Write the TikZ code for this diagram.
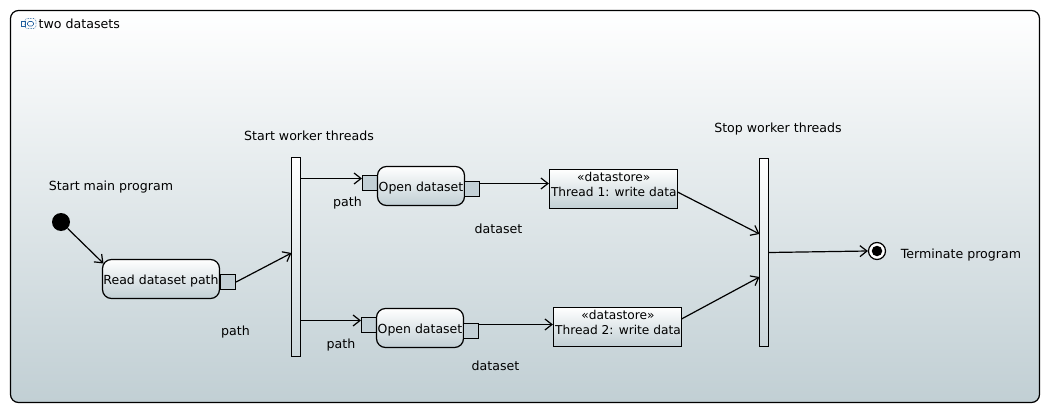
\documentclass[tikz,border=0pt]{standalone}
\usepackage{fontspec}
\usepackage{tikz}
\usetikzlibrary{arrows.meta}
\setmainfont{DejaVu Sans}
\definecolor{shadeblue}{HTML}{C1CFD4}
\definecolor{pinblue}{HTML}{C3D0D6}
\definecolor{iconblue}{HTML}{1F5F9F}
\newcommand{\actiontxt}[1]{\raisebox{-5pt}[0pt][0pt]{#1}}
\tikzset{
    flow/.style={-{Straight Barb[length=7pt,width=11pt]},line width=1.2pt},
    action/.style={draw=black,line width=1.2pt,top color=white,bottom color=shadeblue,rounded corners=9pt,minimum width=#1,minimum height=39pt,inner sep=0pt,font=\fontsize{12.5}{14}\selectfont},
    store/.style={draw=black,line width=1.2pt,top color=white,bottom color=shadeblue,minimum width=128pt,minimum height=39pt,inner sep=0pt},
    storetxt/.style={inner sep=0pt,align=center,font=\fontsize{12.2}{15}\selectfont},
    pin/.style={draw=black,line width=1.2pt,fill=pinblue,minimum size=15pt,inner sep=0pt},
    bar/.style={draw=black,line width=1.2pt,top color=white,bottom color=shadeblue!85,minimum width=9pt,inner sep=0pt},
    txt/.style={inner sep=0pt,font=\fontsize{12.6}{14}\selectfont}
}
\begin{document}
\begin{tikzpicture}[x=1pt,y=-1pt]
    \useasboundingbox (0,0) rectangle (1050,412);
    % frame
    \node[draw=black,line width=1.2pt,top color=white,bottom color=shadeblue,rounded corners=8pt,minimum width=1029pt,minimum height=392pt,inner sep=0pt] (frame) at (525,206.5) {};
    \draw[iconblue,line width=.6pt,densely dotted,rounded corners=2.5pt] (25,18.5) rectangle (36,28.5);
    \draw[iconblue,line width=.6pt] (21,21.5) rectangle (25.5,26);
    \draw[iconblue,line width=.6pt,rounded corners=1.5pt] (27.5,21.5) rectangle (33.5,26);
    \node[txt,anchor=west] (title) at (38.5,24) {two datasets};
    % start
    \node[circle,fill=black,minimum size=18pt,inner sep=0pt] (initial) at (61,222) {};
    \node[txt] (startlabel) at (111,187) {Start main program};
    \node[action=117pt] (read) at (161,279) {\actiontxt{Read dataset path}};
    \node[pin] (readout) at (228,282) {};
    \node[txt] (readpath) at (235.5,332) {path};
    % worker threads
    \node[bar,minimum height=199pt] (startbar) at (296,257) {};
    \node[txt] (startbarlabel) at (309,136) {Start worker threads};
    \node[pin] (openAin) at (370,183) {};
    \node[action=87pt] (openA) at (421,186) {\actiontxt{Open dataset}};
    \node[pin] (openAout) at (472,189) {};
    \node[txt] (pathA) at (347.5,203) {path};
    \node[txt] (datasetA) at (498.5,229) {dataset};
    \node[store] (storeA) at (613.5,189) {};
    \node[storetxt] (storeAtxt) at (613.8,184.8) {«datastore»\\Thread 1: write data};
    \node[pin] (openBin) at (369,325) {};
    \node[action=87pt] (openB) at (420,328) {\actiontxt{Open dataset}};
    \node[pin] (openBout) at (471,331) {};
    \node[txt] (pathB) at (341,345) {path};
    \node[txt] (datasetB) at (495.5,366) {dataset};
    \node[store] (storeB) at (617.5,327) {};
    \node[storetxt] (storeBtxt) at (618,322.8) {«datastore»\\Thread 2: write data};
    % stop
    \node[bar,minimum height=188pt] (stopbar) at (764,252.5) {};
    \node[txt] (stopbarlabel) at (778,129) {Stop worker threads};
    \node[circle,draw=black,fill=white,line width=1.2pt,minimum size=17pt,inner sep=0pt] (final) at (877,251) {};
    \node[circle,fill=black,minimum size=10.5pt,inner sep=0pt] (finaldot) at (877,251) {};
    \node[txt] (finallabel) at (961,255) {Terminate program};
    % connector ends
    \coordinate (readin) at (103.5,263.5);
    \coordinate (inA) at (362,178.5);
    \coordinate (inB) at (361,320.5);
    \coordinate (outA) at (479.5,183.5);
    \coordinate (outB) at (478.5,324.5);
    \coordinate (startin) at (291.5,253);
    \coordinate (storeAout) at (677.5,192);
    \coordinate (storeBout) at (681.5,319);
    \coordinate (stopinA) at (759.5,234);
    \coordinate (stopinB) at (759.5,277);
    % connectors
    \draw[flow] (initial) -- (readin);
    \draw[flow] (readout.east) -- (startin);
    \draw[flow] (startbar.east |- inA) -- (inA);
    \draw[flow] (startbar.east |- inB) -- (inB);
    \draw[flow] (outA) -- (storeA.west |- outA);
    \draw[flow] (outB) -- (storeB.west |- outB);
    \draw[flow] (storeAout) -- (stopinA);
    \draw[flow] (storeBout) -- (stopinB);
    \draw[flow] (stopbar.east) -- (final.west);
\end{tikzpicture}
\end{document}
